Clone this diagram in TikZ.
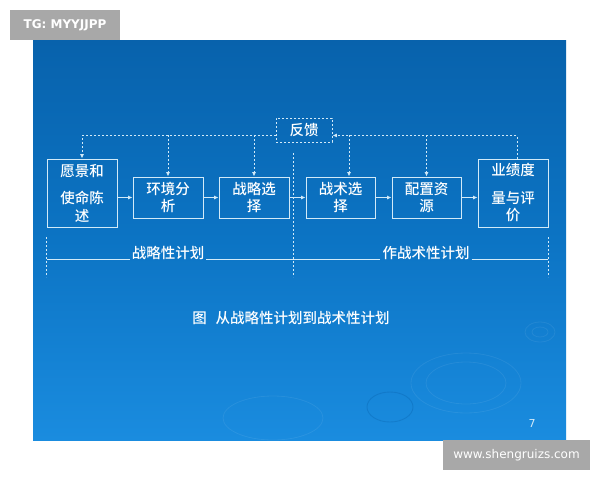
\documentclass[tikz,border=0pt]{standalone}
\usepackage{fontspec}
\setmainfont{Noto Sans CJK SC}[BoldFont={Noto Sans CJK SC Medium}]
\newfontfamily\tagfont{DejaVu Sans}
\usetikzlibrary{arrows.meta}
\definecolor{slidetop}{HTML}{0862AC}
\definecolor{slidemid}{HTML}{0C74C4}
\definecolor{slidebot}{HTML}{1A8CDF}
\definecolor{linec}{HTML}{D2EAF8}
\definecolor{tagc}{HTML}{A8A8A8}

\begin{document}
\begin{tikzpicture}[x=1pt,y=-1pt,
		box/.style={draw=linec, line width=0.9pt, text=white, align=center, inner sep=0pt,
			font=\fontsize{14.5}{17.5}\selectfont\bfseries},
		lbl/.style={text=white, inner sep=2pt, font=\fontsize{14.5}{17}\selectfont\bfseries},
		tip/.style={-{Latex[length=4.5pt,width=4pt]}},
		fbline/.style={draw=linec, line width=0.9pt, dash pattern=on 2pt off 2pt},
		ripple/.style={draw=white, line width=0.8pt, opacity=0.07}]
			% page and slide
			\useasboundingbox (0,0) rectangle (600,480);
			\fill[white] (0,0) rectangle (600,480);
			\shade[top color=slidetop, bottom color=slidebot, middle color=slidemid] (33,40) rectangle (566,440);
			% ripples
			\draw[ripple] (466,383) ellipse (55pt and 30pt);
			\draw[ripple] (466,383) ellipse (40pt and 21pt);
			\draw[ripple] (273,418) ellipse (50pt and 22pt);
			\draw[ripple] (540,332) ellipse (15pt and 10pt);
			\draw[ripple] (540,332) ellipse (8pt and 5pt);
			\draw[draw=slidetop, line width=0.9pt, opacity=0.35] (390,407) ellipse (23pt and 15pt);
			% boxes
			\node[box, minimum width=70pt, minimum height=68pt] (vision) at (82,193) {愿景和\\[10pt]使命陈\\述};
			\node[box, minimum width=70pt, minimum height=41pt] (env) at (168,197.5) {环境分\\析};
			\node[box, minimum width=70pt, minimum height=41pt] (strat) at (254,197.5) {战略选\\择};
			\node[box, minimum width=69pt, minimum height=41pt] (tact) at (340.5,197.5) {战术选\\择};
			\node[box, minimum width=69pt, minimum height=41pt] (res) at (426.5,197.5) {配置资\\源};
			\node[box, minimum width=70pt, minimum height=68pt] (perf) at (513,193) {业绩度\\[10pt]量与评\\价};
			\node[box, fbline, minimum width=56pt, minimum height=24pt] (fb) at (304,130) {反馈};
			% flow
			\draw[linec, line width=0.9pt, tip] (env.west -| vision.east) -- (env.west);
			\draw[linec, line width=0.9pt, tip] (env) -- (strat);
			\draw[linec, line width=0.9pt, tip] (strat) -- (tact);
			\draw[linec, line width=0.9pt, tip] (tact) -- (res);
			\draw[linec, line width=0.9pt, tip] (res.east) -- (res.east -| perf.west);
			% feedback
			\coordinate (fbl) at ([yshift=7pt]fb.south west);
			\coordinate (fbr) at ([yshift=7pt]fb.south east);
			\draw[fbline, tip] (fbl) -| (vision.north);
			\draw[fbline, tip] (env.north |- fbl) -- (env.north);
			\draw[fbline, tip] (strat.north |- fbl) -- (strat.north);
			\draw[fbline, tip] ([xshift=4pt]perf.north) |- (fbr);
			\draw[fbline, tip] ([xshift=8.5pt]tact.north |- fbr) -- ([xshift=8.5pt]tact.north);
			\draw[fbline, tip] (res.north |- fbr) -- (res.north);
			% divider
			\coordinate (divtop) at (293,153);
			\coordinate (divbot) at (293,277);
			\draw[fbline] (divtop) -- (divbot);
			% planning ranges
			\node[lbl] (stratplan) at (168,253) {战略性计划};
			\node[lbl] (tactplan) at (426,253) {作战术性计划};
			\coordinate (bl) at (47,259);
			\coordinate (br) at (548,259);
			\draw[fbline] ([yshift=-10pt]vision.south west) -- ++(0,40);
			\draw[fbline] ([yshift=-10pt]perf.south east) -- ++(0,40);
			\draw[linec, line width=0.9pt] (bl) -- (bl -| stratplan.west);
			\draw[linec, line width=0.9pt] (bl -| stratplan.east) -- (bl -| tactplan.west);
			\draw[linec, line width=0.9pt] (bl -| tactplan.east) -- (br);
			% caption and page number
			\node[lbl] (caption) at (291,318) {图\hspace{0.6em}从战略性计划到战术性计划};
			\node[text=linec, font=\tagfont\fontsize{11}{13}\selectfont] (pagenum) at (532,423) {7};
			% watermarks
			\node[fill=tagc, text=white, minimum width=110pt, minimum height=30pt, inner sep=0pt,
				font=\tagfont\fontsize{12}{14}\selectfont\bfseries] (tagtl) at (65,25) {TG: MYYJJPP};
			\node[fill=tagc, text=white, minimum width=147pt, minimum height=30pt, inner sep=0pt,
				font=\tagfont\fontsize{12}{14}\selectfont] (tagbr) at (516.5,455) {www.shengruizs.com};
		\end{tikzpicture}
\end{document}
